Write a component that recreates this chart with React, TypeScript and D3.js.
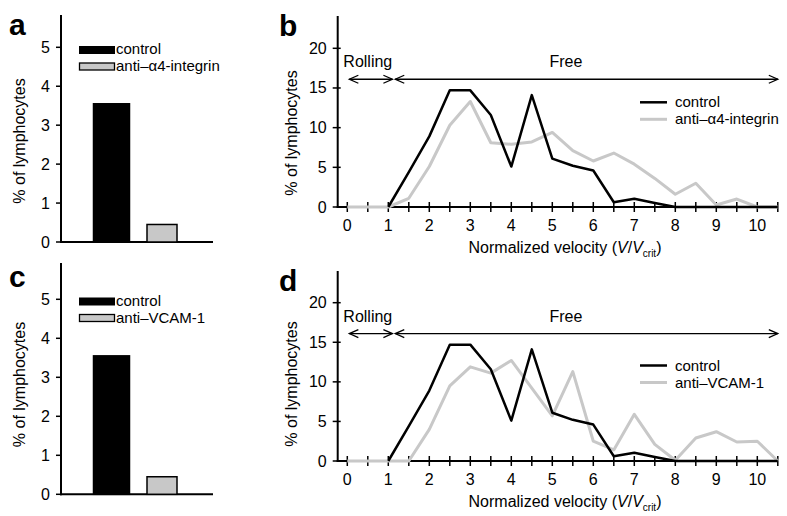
import React from "react";
import * as d3 from "d3";

// bar panels (a, c)
const barGroups = ["control", "treated"];
const barValuesA = [3.55, 0.45];
const barValuesC = [3.55, 0.45];
const barTicks = [0, 1, 2, 3, 4, 5];

// line panels (b, d)
const velocity = [0, 0.5, 1, 1.5, 2, 2.5, 3, 3.5, 4, 4.5, 5, 5.5, 6, 6.5, 7, 7.5, 8, 8.5, 9, 9.5, 10, 10.5];
const controlFreq = [null, null, 0, 4.4, 8.9, 14.7, 14.7, 11.6, 5.1, 14.1, 6.1, 5.2, 4.6, 0.6, 1.05, 0.5, 0, 0, 0, 0, 0, 0];
const antiA4Freq = [0, 0, 0, 1.1, 5.1, 10.3, 13.3, 8.1, 7.9, 8.2, 9.4, 7.1, 5.8, 6.8, 5.4, 3.6, 1.6, 3.0, 0.25, 1.0, 0, 0];
const antiVcamFreq = [0, 0, 0, 0, 4.0, 9.5, 11.9, 11.1, 12.7, 9.2, 5.7, 11.3, 2.5, 1.4, 5.9, 2.1, 0.1, 2.9, 3.7, 2.4, 2.5, 0];
const lineYTicks = [0, 5, 10, 15, 20];
const lineXTicks = [0, 1, 2, 3, 4, 5, 6, 7, 8, 9, 10];

const FONT = "'Liberation Sans', Arial, Helvetica, sans-serif";
const GRAY = "#c8c8c8";
const FS = 16;
const LEG_FS = 15;

type BarProps = {
  letter: string;
  values: number[];
  treatedLabel: string;
  y0: number;
  y5: number;
  axisTop: number;
  legendY: number;
  labelY: number;
};

function BarPanel({ letter, values, treatedLabel, y0, y5, axisTop, legendY, labelY }: BarProps) {
  const axisX = 61;
  const y = d3.scaleLinear().domain([0, 5]).range([y0, y5]);
  const x = d3.scalePoint<string>().domain(barGroups).range([111.5, 162]);
  const widths = [36, 30];
  return (
    <g>
      <text x={9} y={y5 - 12} fontSize={30} fontWeight="bold" fontFamily={FONT}>{letter}</text>
      <line x1={axisX} x2={axisX} y1={axisTop} y2={y0 + 1} stroke="#000" strokeWidth={2} />
      <line x1={axisX - 1} x2={213} y1={y0} y2={y0} stroke="#000" strokeWidth={2} />
      {barTicks.map((t) => (
        <g key={t}>
          <line x1={axisX - 5} x2={axisX} y1={y(t)} y2={y(t)} stroke="#000" strokeWidth={1.5} />
          <text x={axisX - 11} y={y(t) + 5.5} fontSize={FS} textAnchor="end" fontFamily={FONT}>{t}</text>
        </g>
      ))}
      {values.map((v, i) => (
        <rect
          key={i}
          x={x(barGroups[i])! - widths[i] / 2}
          width={widths[i]}
          y={y(v)}
          height={y0 - y(v)}
          fill={i === 0 ? "#000" : GRAY}
          stroke="#000"
          strokeWidth={1.5}
        />
      ))}
      <rect x={79} y={legendY - 1} width={36} height={8} fill="#000" />
      <text x={116} y={legendY + 7} fontSize={LEG_FS} fontFamily={FONT}>control</text>
      <rect x={79.5} y={legendY + 16} width={35} height={7} fill={GRAY} stroke="#000" strokeWidth={1.3} />
      <text x={116} y={legendY + 24} fontSize={LEG_FS} fontFamily={FONT}>{treatedLabel}</text>
      <text
        transform={`translate(25,${labelY}) rotate(-90)`}
        fontSize={FS}
        textAnchor="middle"
        fontFamily={FONT}
      >
        % of lymphocytes
      </text>
    </g>
  );
}

type LineProps = {
  letter: string;
  treated: number[];
  treatedLabel: string;
  y0: number;
  y20: number;
  axisTop: number;
  legendY: number;
  labelY: number;
};

function Chevron({ x, y, dir }: { x: number; y: number; dir: number }) {
  return (
    <path
      d={`M${x + dir * 9},${y - 4}L${x},${y}L${x + dir * 9},${y + 4}`}
      fill="none"
      stroke="#000"
      strokeWidth={1.3}
    />
  );
}

function LinePanel({ letter, treated, treatedLabel, y0, y20, axisTop, legendY, labelY }: LineProps) {
  const axisX = 337.7;
  const x = d3.scaleLinear().domain([0, 10]).range([347.3, 757.3]);
  const y = d3.scaleLinear().domain([0, 20]).range([y0, y20]);
  const line = d3
    .line<number | null>()
    .defined((d) => d !== null)
    .x((_, i) => x(velocity[i]))
    .y((d) => y(d as number));
  const arrowY = y(16.1);
  const rollL = x(0.05);
  const rollR = x(1.1);
  const freeL = x(1.17);
  const freeR = x(10.5);
  return (
    <g>
      <text x={279} y={y20 - 12} fontSize={30} fontWeight="bold" fontFamily={FONT}>{letter}</text>
      <line x1={axisX} x2={axisX} y1={axisTop} y2={y0 + 1} stroke="#000" strokeWidth={2} />
      <line x1={axisX - 1} x2={x(10.5)} y1={y0} y2={y0} stroke="#000" strokeWidth={2} />
      {lineYTicks.map((t) => (
        <g key={t}>
          <line x1={axisX - 5} x2={axisX + 3} y1={y(t)} y2={y(t)} stroke="#000" strokeWidth={1.5} />
          <text x={axisX - 11} y={y(t) + 5.5} fontSize={FS} textAnchor="end" fontFamily={FONT}>{t}</text>
        </g>
      ))}
      {velocity.map((v) => (
        <line key={v} x1={x(v)} x2={x(v)} y1={y0 - 5} y2={y0 + 5} stroke="#000" strokeWidth={1.5} />
      ))}
      {lineXTicks.map((t) => (
        <text key={t} x={x(t)} y={y0 + 24} fontSize={FS} textAnchor="middle" fontFamily={FONT}>{t}</text>
      ))}
      <path d={line(treated) ?? ""} fill="none" stroke={GRAY} strokeWidth={3} strokeLinejoin="round" />
      <path d={line(controlFreq) ?? ""} fill="none" stroke="#000" strokeWidth={2.5} strokeLinejoin="round" />

      <line x1={rollL} x2={rollR} y1={arrowY} y2={arrowY} stroke="#000" strokeWidth={1.3} />
      <Chevron x={rollL} y={arrowY} dir={1} />
      <Chevron x={rollR} y={arrowY} dir={-1} />
      <line x1={freeL} x2={freeR} y1={arrowY} y2={arrowY} stroke="#000" strokeWidth={1.3} />
      <Chevron x={freeL} y={arrowY} dir={1} />
      <Chevron x={freeR} y={arrowY} dir={-1} />
      <text x={x(0.5)} y={arrowY - 12} fontSize={FS} textAnchor="middle" fontFamily={FONT}>Rolling</text>
      <text x={x(5.33)} y={arrowY - 12} fontSize={FS} textAnchor="middle" fontFamily={FONT}>Free</text>

      <line x1={640} x2={667} y1={legendY - 1} y2={legendY - 1} stroke="#000" strokeWidth={2.5} />
      <text x={675} y={legendY + 4} fontSize={LEG_FS} fontFamily={FONT}>control</text>
      <line x1={640} x2={667} y1={legendY + 16} y2={legendY + 16} stroke={GRAY} strokeWidth={3} />
      <text x={675} y={legendY + 21} fontSize={LEG_FS} fontFamily={FONT}>{treatedLabel}</text>

      <text
        transform={`translate(297,${labelY}) rotate(-90)`}
        fontSize={FS}
        textAnchor="middle"
        fontFamily={FONT}
      >
        % of lymphocytes
      </text>
      <text x={565} y={y0 + 46} fontSize={FS} textAnchor="middle" fontFamily={FONT}>
        Normalized velocity (<tspan fontStyle="italic">V</tspan>/<tspan fontStyle="italic">V</tspan>
        <tspan fontSize={10} dy={4}>crit</tspan>
        <tspan dy={-4}>)</tspan>
      </text>
    </g>
  );
}

export default function App() {
  return (
    <svg
      width={787}
      height={516}
      style={{ position: "absolute", left: 0, top: 0, background: "#fff" }}
    >
      <BarPanel letter="a" values={barValuesA} treatedLabel="anti–α4-integrin" y0={242} y5={47.3} axisTop={15} legendY={47} labelY={141} />
      <BarPanel letter="c" values={barValuesC} treatedLabel="anti–VCAM-1" y0={494.3} y5={299.3} axisTop={263} legendY={298.5} labelY={384.5} />
      <LinePanel letter="b" treated={antiA4Freq} treatedLabel="anti–α4-integrin" y0={207} y20={48.3} axisTop={16} legendY={103.3} labelY={133} />
      <LinePanel letter="d" treated={antiVcamFreq} treatedLabel="anti–VCAM-1" y0={461} y20={302.7} axisTop={271} legendY={366.5} labelY={384} />
    </svg>
  );
}
